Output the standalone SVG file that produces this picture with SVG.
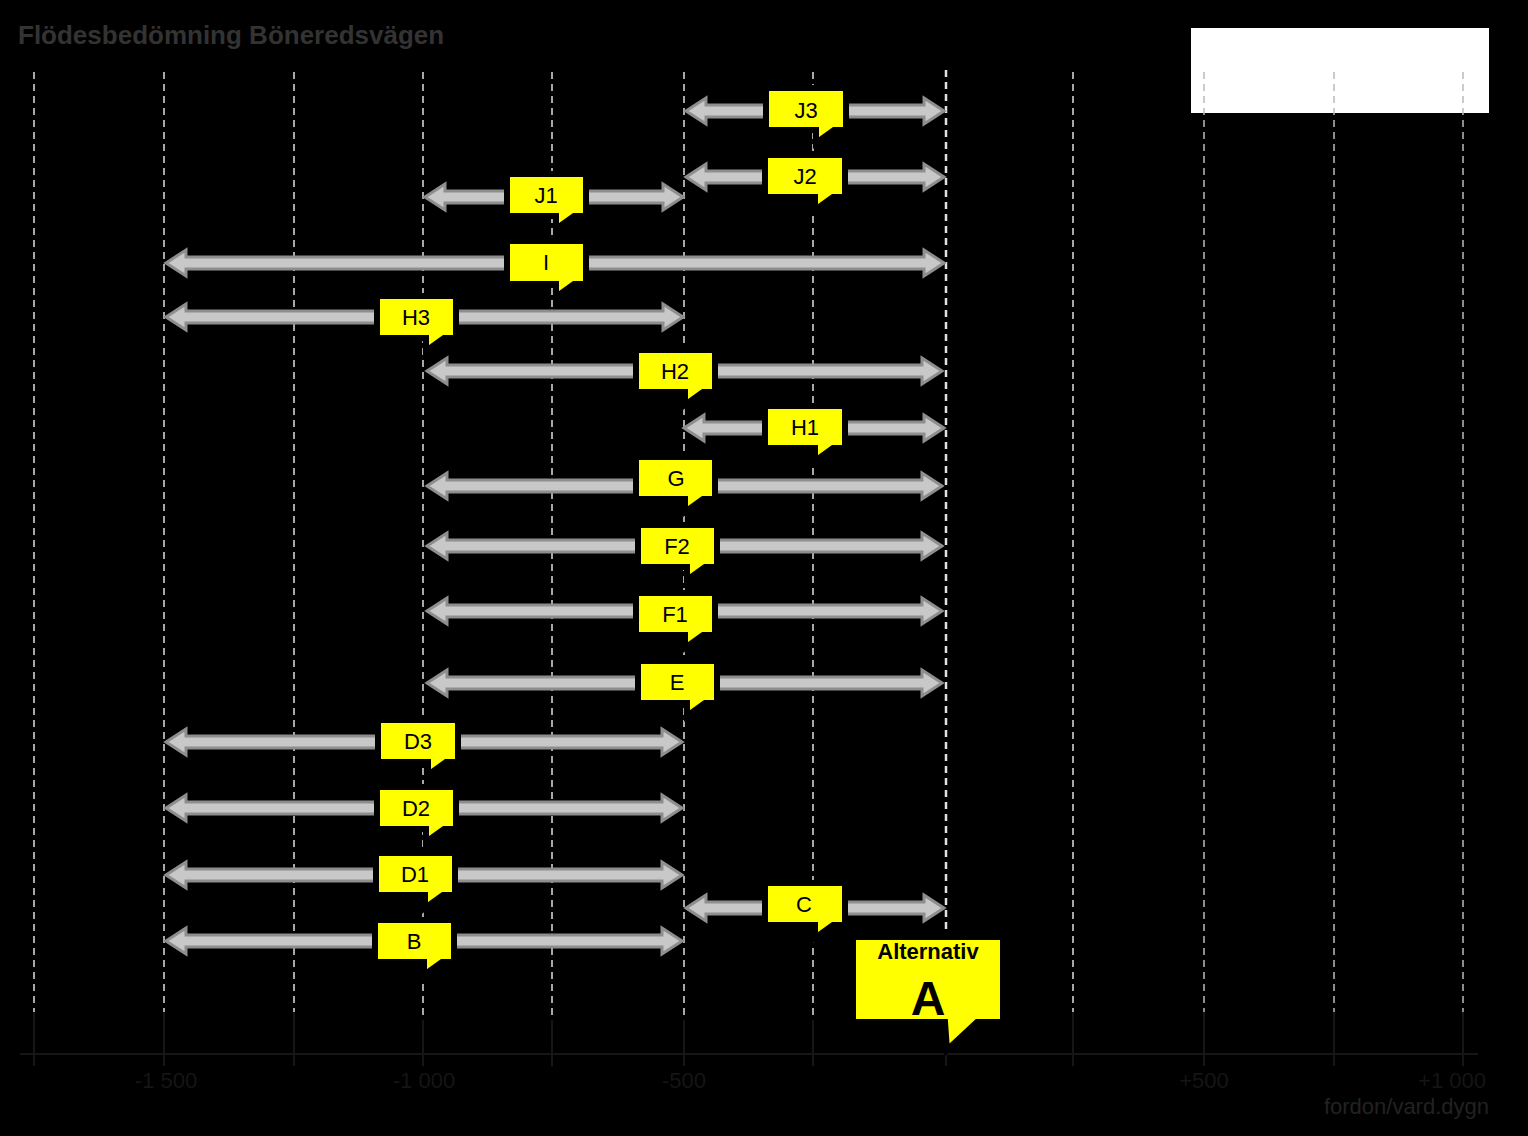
<svg xmlns="http://www.w3.org/2000/svg" width="1528" height="1136" viewBox="0 0 1528 1136">
<style>
.grid{stroke:#e0e0e0;stroke-width:1.5;stroke-dasharray:7,5}
.tick{stroke:#161616;stroke-width:2}
.arr{fill:#c8c8c8;stroke:#8e8e8e;stroke-width:3;stroke-linejoin:miter}
.lab{fill:#ffff00;stroke:#000;stroke-width:6;stroke-linejoin:miter}
.lt{font-family:"Liberation Sans",Arial,sans-serif;font-size:22px;fill:#000;text-anchor:middle}
.ax{font-family:"Liberation Sans",Arial,sans-serif;font-size:22px;fill:#151515;text-anchor:middle}
</style>
<rect width="1528" height="1136" fill="#000"/>
<rect x="1191" y="28" width="298" height="85" fill="#fff"/>
<text x="18" y="44" font-family="Liberation Sans,Arial,sans-serif" font-size="26" font-weight="bold" fill="#333">Flödesbedömning Böneredsvägen</text>
<g id="grid">
<line class="grid" x1="34" y1="72" x2="34" y2="1012"/>
<line class="grid" x1="164" y1="72" x2="164" y2="1012"/>
<line class="grid" x1="294" y1="72" x2="294" y2="1012"/>
<line class="grid" x1="423" y1="72" x2="423" y2="1020"/>
<line class="grid" x1="552" y1="72" x2="552" y2="1020"/>
<line class="grid" x1="684" y1="72" x2="684" y2="1020"/>
<line class="grid" x1="813" y1="72" x2="813" y2="1020"/>
<line class="grid" x1="946" y1="70" x2="946" y2="1020" style="stroke-width:2.5"/>
<line class="grid" x1="1073" y1="72" x2="1073" y2="1012"/>
<line class="grid" x1="1204" y1="72" x2="1204" y2="1012" style="stroke:#bbb"/>
<line class="grid" x1="1334" y1="72" x2="1334" y2="1012" style="stroke:#bbb"/>
<line class="grid" x1="1463" y1="72" x2="1463" y2="1012" style="stroke:#bbb"/>
<g class="tick">
<line x1="20" y1="1054" x2="1478" y2="1054"/>
<line x1="34" y1="1012" x2="34" y2="1066"/><line x1="164" y1="1012" x2="164" y2="1066"/><line x1="294" y1="1012" x2="294" y2="1066"/><line x1="423" y1="1020" x2="423" y2="1066"/><line x1="552" y1="1020" x2="552" y2="1066"/><line x1="684" y1="1020" x2="684" y2="1066"/><line x1="813" y1="1020" x2="813" y2="1066"/><line x1="946" y1="1020" x2="946" y2="1066"/><line x1="1073" y1="1012" x2="1073" y2="1066"/><line x1="1204" y1="1012" x2="1204" y2="1066"/><line x1="1334" y1="1012" x2="1334" y2="1066"/><line x1="1463" y1="1012" x2="1463" y2="1066"/>
</g>
<text class="ax" x="166" y="1088">-1 500</text>
<text class="ax" x="424" y="1088">-1 000</text>
<text class="ax" x="684" y="1088">-500</text>
<text class="ax" x="1204" y="1088">+500</text>
<text class="ax" x="1452" y="1088">+1 000</text>
<text x="1489" y="1114" font-family="Liberation Sans,Arial,sans-serif" font-size="22" fill="#222" text-anchor="end">fordon/vard.dygn</text>
</g>
<g id="connectors">
<path class="arr" d="M686 111 L706 98 L706 105 L924 105 L924 98 L944 111 L924 124 L924 117 L706 117 L706 124 Z"/>
<path class="arr" d="M686 177 L706 164 L706 171 L924 171 L924 164 L944 177 L924 190 L924 183 L706 183 L706 190 Z"/>
<path class="arr" d="M425 197 L445 184 L445 191 L663 191 L663 184 L683 197 L663 210 L663 203 L445 203 L445 210 Z"/>
<path class="arr" d="M166 263 L186 250 L186 257 L924 257 L924 250 L944 263 L924 276 L924 269 L186 269 L186 276 Z"/>
<path class="arr" d="M166 317 L186 304 L186 311 L663 311 L663 304 L683 317 L663 330 L663 323 L186 323 L186 330 Z"/>
<path class="arr" d="M427 371 L447 358 L447 365 L922 365 L922 358 L942 371 L922 384 L922 377 L447 377 L447 384 Z"/>
<path class="arr" d="M684 428 L704 415 L704 422 L924 422 L924 415 L944 428 L924 441 L924 434 L704 434 L704 441 Z"/>
<path class="arr" d="M427 486 L447 473 L447 480 L922 480 L922 473 L942 486 L922 499 L922 492 L447 492 L447 499 Z"/>
<path class="arr" d="M427 546 L447 533 L447 540 L922 540 L922 533 L942 546 L922 559 L922 552 L447 552 L447 559 Z"/>
<path class="arr" d="M427 611 L447 598 L447 605 L922 605 L922 598 L942 611 L922 624 L922 617 L447 617 L447 624 Z"/>
<path class="arr" d="M427 683 L447 670 L447 677 L922 677 L922 670 L942 683 L922 696 L922 689 L447 689 L447 696 Z"/>
<path class="arr" d="M166 742 L186 729 L186 736 L662 736 L662 729 L682 742 L662 755 L662 748 L186 748 L186 755 Z"/>
<path class="arr" d="M166 808 L186 795 L186 802 L662 802 L662 795 L682 808 L662 821 L662 814 L186 814 L186 821 Z"/>
<path class="arr" d="M166 875 L186 862 L186 869 L662 869 L662 862 L682 875 L662 888 L662 881 L186 881 L186 888 Z"/>
<path class="arr" d="M686 908 L706 895 L706 902 L924 902 L924 895 L944 908 L924 921 L924 914 L706 914 L706 921 Z"/>
<path class="arr" d="M166 941 L186 928 L186 935 L662 935 L662 928 L682 941 L662 954 L662 947 L186 947 L186 954 Z"/>
</g>
<g id="J3"><path class="lab" d="M766 88 H846 V130 H834 L816 143 V130 H766 Z"/><text class="lt" x="806" y="118">J3</text></g>
<g id="J2"><path class="lab" d="M765 155 H845 V197 H833 L815 210 V197 H765 Z"/><text class="lt" x="805" y="184">J2</text></g>
<g id="J1"><path class="lab" d="M507 174 H586 V216 H574 L556 229 V216 H507 Z"/><text class="lt" x="546" y="203">J1</text></g>
<g id="I"><path class="lab" d="M507 241 H586 V284 H574 L556 297 V284 H507 Z"/><text class="lt" x="546" y="270">I</text></g>
<g id="H3"><path class="lab" d="M377 296 H456 V338 H444 L426 351 V338 H377 Z"/><text class="lt" x="416" y="325">H3</text></g>
<g id="H2"><path class="lab" d="M636 350 H715 V392 H703 L685 405 V392 H636 Z"/><text class="lt" x="675" y="379">H2</text></g>
<g id="H1"><path class="lab" d="M765 406 H845 V448 H833 L815 461 V448 H765 Z"/><text class="lt" x="805" y="435">H1</text></g>
<g id="G"><path class="lab" d="M636 457 H715 V499 H703 L685 512 V499 H636 Z"/><text class="lt" x="676" y="486">G</text></g>
<g id="F2"><path class="lab" d="M638 525 H717 V567 H705 L687 580 V567 H638 Z"/><text class="lt" x="677" y="554">F2</text></g>
<g id="F1"><path class="lab" d="M636 593 H715 V635 H703 L685 648 V635 H636 Z"/><text class="lt" x="675" y="622">F1</text></g>
<g id="E"><path class="lab" d="M638 661 H717 V703 H705 L687 716 V703 H638 Z"/><text class="lt" x="677" y="690">E</text></g>
<g id="D3"><path class="lab" d="M378 720 H458 V762 H446 L428 775 V762 H378 Z"/><text class="lt" x="418" y="749">D3</text></g>
<g id="D2"><path class="lab" d="M377 787 H456 V829 H444 L426 842 V829 H377 Z"/><text class="lt" x="416" y="816">D2</text></g>
<g id="D1"><path class="lab" d="M376 853 H455 V895 H443 L425 908 V895 H376 Z"/><text class="lt" x="415" y="882">D1</text></g>
<g id="C"><path class="lab" d="M765 883 H845 V925 H833 L815 938 V925 H765 Z"/><text class="lt" x="804" y="912">C</text></g>
<g id="B"><path class="lab" d="M375 920 H454 V962 H442 L424 975 V962 H375 Z"/><text class="lt" x="414" y="949">B</text></g>
<g id="AlternativA"><path class="lab" d="M853 937 H1003 V1022 H977 L947 1050 L945 1022 H853 Z"/>
<text class="lt" x="928" y="959" font-weight="bold">Alternativ</text>
<text class="lt" x="928" y="1015" font-weight="bold" style="font-size:48px">A</text></g>
</svg>
